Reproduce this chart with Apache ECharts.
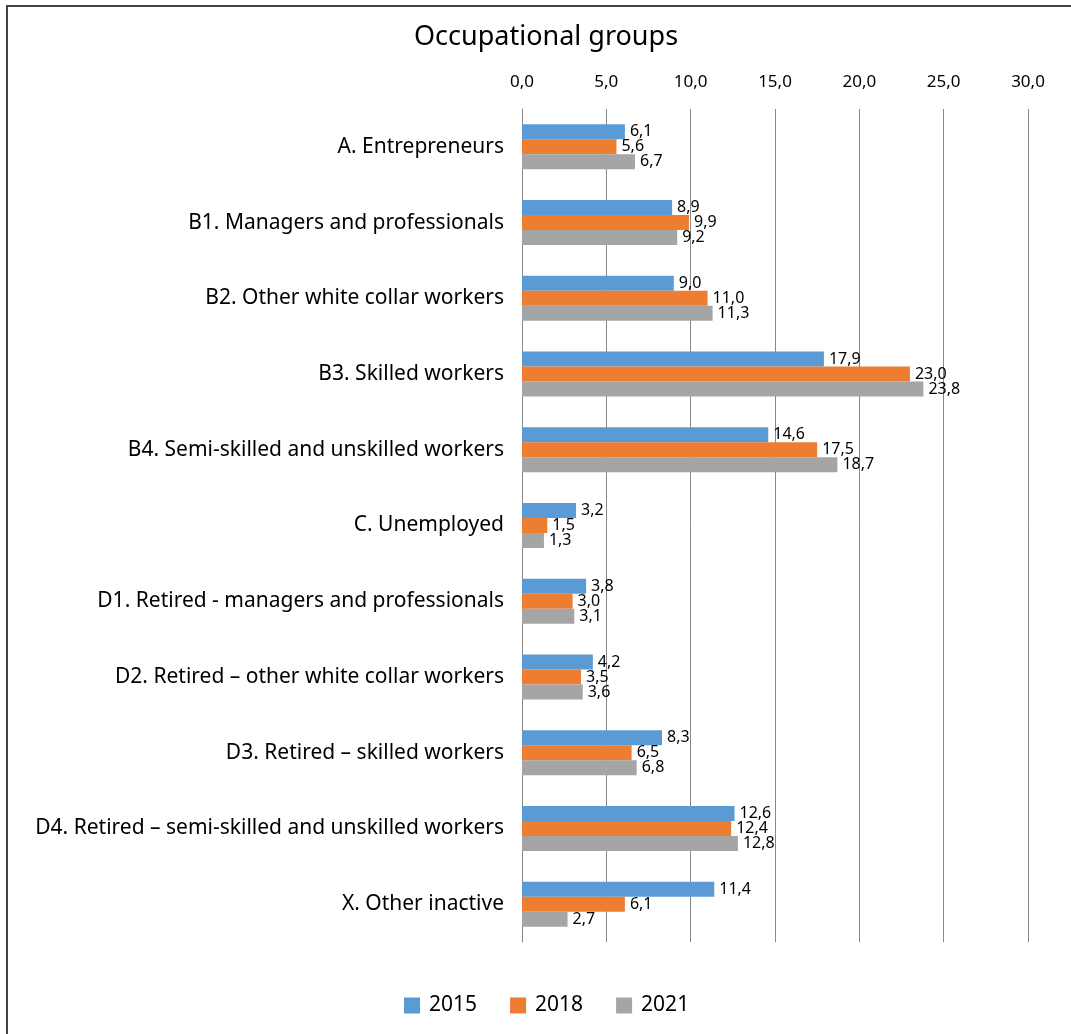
<!DOCTYPE html>
<html>
<head>
<meta charset="utf-8">
<script src="https://cdn.jsdelivr.net/npm/echarts@6/dist/echarts.min.js"></script>
<style>
html,body{margin:0;padding:0;background:#fff;}
#chart{width:1071px;height:1034px;}
</style>
</head>
<body>
<div id="chart"></div>
<script>
const categories = [
  "A. Entrepreneurs",
  "B1. Managers and professionals",
  "B2. Other white collar workers",
  "B3. Skilled workers",
  "B4. Semi-skilled and unskilled workers",
  "C. Unemployed",
  "D1. Retired - managers and professionals",
  "D2. Retired – other white collar workers",
  "D3. Retired – skilled workers",
  "D4. Retired – semi-skilled and unskilled workers",
  "X. Other inactive"
];
const values2015 = [6.1, 8.9, 9.0, 17.9, 14.6, 3.2, 3.8, 4.2, 8.3, 12.6, 11.4];
const values2018 = [5.6, 9.9, 11.0, 23.0, 17.5, 1.5, 3.0, 3.5, 6.5, 12.4, 6.1];
const values2021 = [6.7, 9.2, 11.3, 23.8, 18.7, 1.3, 3.1, 3.6, 6.8, 12.8, 2.7];
const seriesNames = ["2015", "2018", "2021"];
const colors = ["#5B9BD5", "#ED7D31", "#A5A5A5"];

const FONT = "Noto Sans";
const fmt = v => Number(v).toFixed(1).replace('.', ',');

const chart = echarts.init(document.getElementById('chart'));
const mk = (name, data, color) => ({
  name: name,
  type: 'bar',
  data: data,
  barWidth: 15,
  barGap: '0%',
  itemStyle: { color: color },
  label: {
    show: true,
    position: 'right',
    distance: 5,
    formatter: p => fmt(p.value),
    fontFamily: FONT,
    fontSize: 16,
    color: '#000'
  }
});
chart.setOption({
  animation: false,
  textStyle: { fontFamily: FONT },
  graphic: [{
    type: 'rect',
    shape: { x: 7, y: 6, width: 1100, height: 1100 },
    style: { fill: 'none', stroke: '#444', lineWidth: 2 }
  }],
  title: {
    text: 'Occupational groups',
    left: 409,
    top: 19,
    textStyle: { fontFamily: FONT, fontSize: 27, fontWeight: 'normal', color: '#000' }
  },
  legend: {
    bottom: 13,
    left: 399,
    icon: 'rect',
    itemWidth: 16,
    itemHeight: 16,
    itemGap: 33,
    textStyle: { fontFamily: FONT, fontSize: 21, color: '#000', padding: [0, 0, 0, 4] },
    data: seriesNames
  },
  grid: { left: 522, right: 43, top: 109, bottom: 92, containLabel: false },
  xAxis: {
    type: 'value',
    position: 'top',
    min: 0, max: 30, interval: 5,
    axisLine: { show: false },
    axisTick: { show: false },
    axisLabel: { formatter: fmt, fontFamily: FONT, fontSize: 17, color: '#000', margin: 18 },
    splitLine: { show: true, lineStyle: { color: '#888', width: 1 } }
  },
  yAxis: {
    type: 'category',
    inverse: true,
    data: categories,
    axisLine: { show: true, lineStyle: { color: '#888', width: 1 } },
    axisTick: { show: false },
    axisLabel: { fontFamily: FONT, fontSize: 21, color: '#000', margin: 18 }
  },
  series: [
    mk(seriesNames[0], values2015, colors[0]),
    mk(seriesNames[1], values2018, colors[1]),
    mk(seriesNames[2], values2021, colors[2])
  ]
});
</script>
</body>
</html>
